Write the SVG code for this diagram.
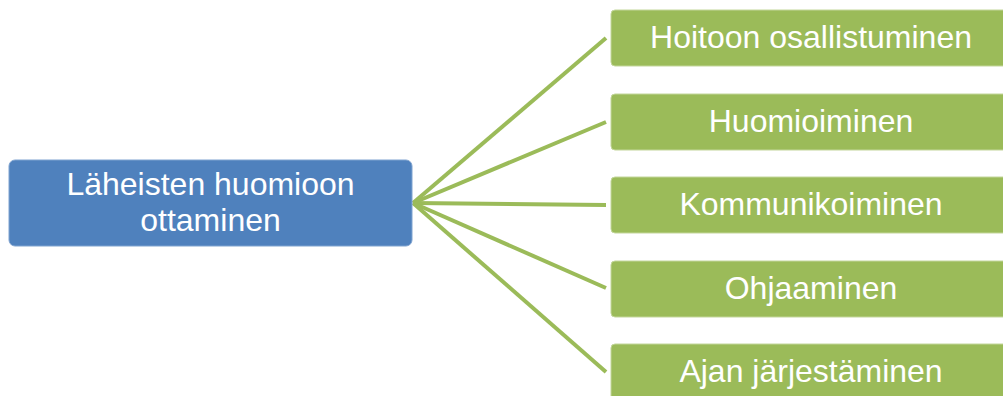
<svg xmlns="http://www.w3.org/2000/svg" width="1003" height="396" viewBox="0 0 1003 396">
  <style>
    .root { fill: #4F81BD; stroke: #7FA3D0; stroke-width: 1; }
    .leaf { fill: #9BBB59; stroke: #C3D69B; stroke-width: 1; }
    .label { fill: #FFFFFF; font-family: "Liberation Sans", Arial, sans-serif; font-size: 32px; text-anchor: middle; }
    .link { stroke: #9BBB59; stroke-width: 4; fill: none; }
  </style>
  <rect width="1003" height="396" fill="#FFFFFF"/>

  <!-- connectors from the root to each item -->
  <g id="connectors">
    <line class="link" x1="413" y1="203" x2="606" y2="38"/>
    <line class="link" x1="413" y1="203" x2="606" y2="122"/>
    <line class="link" x1="413" y1="203" x2="606" y2="205"/>
    <line class="link" x1="413" y1="203" x2="606" y2="288"/>
    <line class="link" x1="413" y1="203" x2="606" y2="372"/>
  </g>

  <g id="root">
    <rect class="root" x="9" y="160" width="403" height="86" rx="6"/>
    <text class="label" x="210.5" y="195">Läheisten huomioon</text>
    <text class="label" x="210.5" y="230.5">ottaminen</text>
  </g>

  <g id="item-1">
    <rect class="leaf" x="611" y="10" width="400" height="56" rx="4"/>
    <text class="label" x="811" y="47.5">Hoitoon osallistuminen</text>
  </g>
  <g id="item-2">
    <rect class="leaf" x="611" y="94" width="400" height="56" rx="4"/>
    <text class="label" x="811" y="131.5">Huomioiminen</text>
  </g>
  <g id="item-3">
    <rect class="leaf" x="611" y="177" width="400" height="56" rx="4"/>
    <text class="label" x="811" y="214.5">Kommunikoiminen</text>
  </g>
  <g id="item-4">
    <rect class="leaf" x="611" y="261" width="400" height="56" rx="4"/>
    <text class="label" x="811" y="298.5">Ohjaaminen</text>
  </g>
  <g id="item-5">
    <rect class="leaf" x="611" y="344" width="400" height="56" rx="4"/>
    <text class="label" x="811" y="381.5">Ajan järjestäminen</text>
  </g>
</svg>
